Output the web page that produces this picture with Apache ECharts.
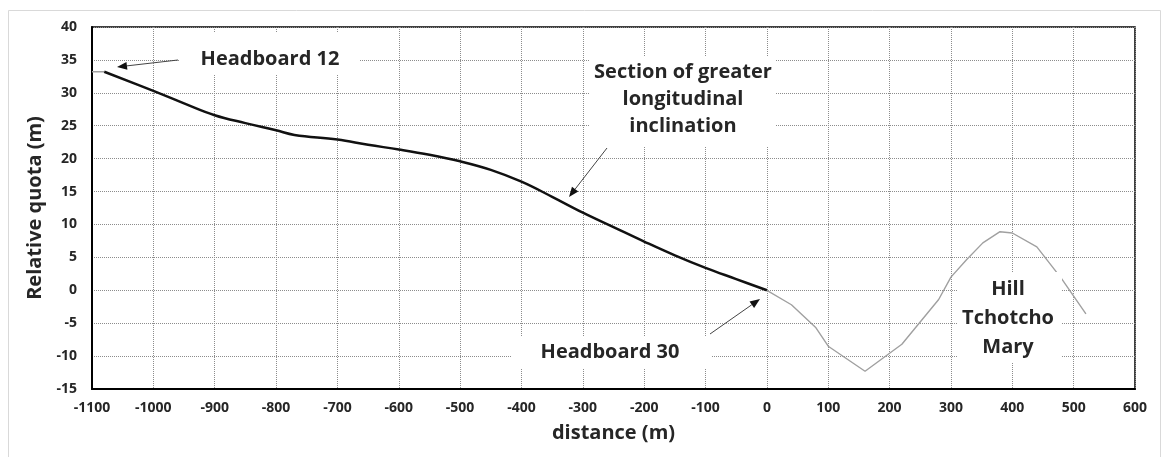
<!DOCTYPE html>
<html>
<head>
<meta charset="utf-8">
<script src="https://cdn.jsdelivr.net/npm/echarts@6/dist/echarts.min.js"></script>
<style>
html,body{margin:0;padding:0;background:#fff;}
#chart{width:1163px;height:457px;}
</style>
</head>
<body>
<div id="chart"></div>
<script>
// Data
const xTickMin = -1100, xTickMax = 600, xTickStep = 100;
const yTickMin = -15, yTickMax = 40, yTickStep = 5;

const leadInX = [-1100, -1080];
const leadInY = [33.2, 33.2];

const profileX = [-1080, -1000, -950, -900, -850, -800, -770, -700, -650, -600, -550, -500, -450, -400, -350, -300, -250, -200, -150, -100, -50, 0];
const profileY = [33.2, 30.3, 28.4, 26.6, 25.4, 24.3, 23.6, 22.9, 22.1, 21.4, 20.6, 19.6, 18.3, 16.5, 14.2, 11.8, 9.6, 7.4, 5.3, 3.4, 1.7, 0];

const hillX = [0, 40, 80, 100, 160, 220, 280, 300, 325, 352, 380, 400, 440, 480, 520];
const hillY = [0, -2.2, -5.7, -8.5, -12.3, -8.2, -1.4, 2.0, 4.6, 7.2, 8.9, 8.7, 6.6, 1.8, -3.6];

const xAxisTitle = 'distance (m)';
const yAxisTitle = 'Relative quota (m)';
const noteH12 = 'Headboard 12';
const noteSection = 'Section of greater\nlongitudinal\ninclination';
const noteH30 = 'Headboard 30';
const noteHill = 'Hill\nTchotcho\nMary';

const pair = (xs, ys) => xs.map((x, i) => [x, ys[i]]);

const FONT = '"Open Sans", "Liberation Sans", sans-serif';
const TXT = '#262626';

function arrow(x1, y1, x2, y2) {
  const dx = x2 - x1, dy = y2 - y1, L = Math.hypot(dx, dy);
  const ux = dx / L, uy = dy / L, len = 10, hw = 4;
  const bx = x2 - ux * len, by = y2 - uy * len;
  return [
    { type: 'line', z: 100, shape: { x1, y1, x2: bx, y2: by }, style: { stroke: '#444', lineWidth: 1 } },
    { type: 'polygon', z: 100, shape: { points: [[x2, y2], [bx - uy * hw, by + ux * hw], [bx + uy * hw, by - ux * hw]] }, style: { fill: '#111' } }
  ];
}
function box(x, y, w, h) {
  return { type: 'rect', z: 90, shape: { x, y, width: w, height: h }, style: { fill: '#fff' } };
}
function note(x, y, text, lh) {
  return { type: 'text', z: 95, x, y, style: { text, fill: TXT, font: 'bold 20px ' + FONT, align: 'center', verticalAlign: 'middle', lineHeight: lh } };
}

const chart = echarts.init(document.getElementById('chart'), null, { renderer: 'canvas' });
const gridLine = { show: true, lineStyle: { color: '#8c8c8c', type: [1, 1], width: 1 } };
const tickLabel = { fontFamily: FONT, fontWeight: 'bold', fontSize: 14, color: TXT };
chart.setOption({
  animation: false,
  backgroundColor: '#fff',
  grid: { left: 92, right: 28, top: 27, bottom: 68, show: true, borderColor: '#000', borderWidth: 1.5, backgroundColor: 'transparent' },
  xAxis: {
    type: 'value', min: xTickMin, max: xTickMax, interval: xTickStep,
    name: xAxisTitle, nameLocation: 'middle', nameGap: 34,
    nameTextStyle: { fontFamily: FONT, fontWeight: 'bold', fontSize: 20, color: TXT },
    axisLine: { show: true, onZero: false, lineStyle: { color: '#000', width: 2 } },
    axisTick: { show: false },
    axisLabel: Object.assign({ margin: 12, formatter: v => String(v) }, tickLabel),
    splitLine: gridLine
  },
  yAxis: {
    type: 'value', min: yTickMin, max: yTickMax, interval: yTickStep,
    name: yAxisTitle, nameLocation: 'middle', nameGap: 45, nameRotate: 90,
    nameTextStyle: { fontFamily: FONT, fontWeight: 'bold', fontSize: 20, color: TXT },
    axisLine: { show: true, onZero: false, lineStyle: { color: '#000', width: 2 } },
    axisTick: { show: false },
    axisLabel: Object.assign({ margin: 15, formatter: v => String(v) }, tickLabel),
    splitLine: gridLine
  },
  series: [
    { type: 'line', data: pair(leadInX, leadInY), showSymbol: false, lineStyle: { color: '#a0a0a0', width: 1.3 }, z: 3 },
    { type: 'line', data: pair(hillX, hillY), showSymbol: false, lineStyle: { color: '#a0a0a0', width: 1.4 }, z: 3 },
    { type: 'line', data: pair(profileX, profileY), showSymbol: false, smooth: 0.4, lineStyle: { color: '#111', width: 2.5 }, z: 4 }
  ],
  graphic: [
    { type: 'rect', z: -1, shape: { x: 8.5, y: 10.5, width: 1152, height: 460 }, style: { fill: 'none', stroke: '#d9d9d9', lineWidth: 1 } },
    box(180, 33, 180, 42), note(270, 59, noteH12, 22),
    box(590, 57, 185, 90), note(683, 99, noteSection, 27),
    box(512, 337, 200, 31), note(610, 352, noteH30, 22),
    box(957, 272, 105, 90), note(1008, 318, noteHill, 29),
    ...arrow(178, 60, 117, 67),
    ...arrow(607, 148, 569, 197),
    ...arrow(710, 334, 760, 299)
  ]
});
</script>
</body>
</html>
